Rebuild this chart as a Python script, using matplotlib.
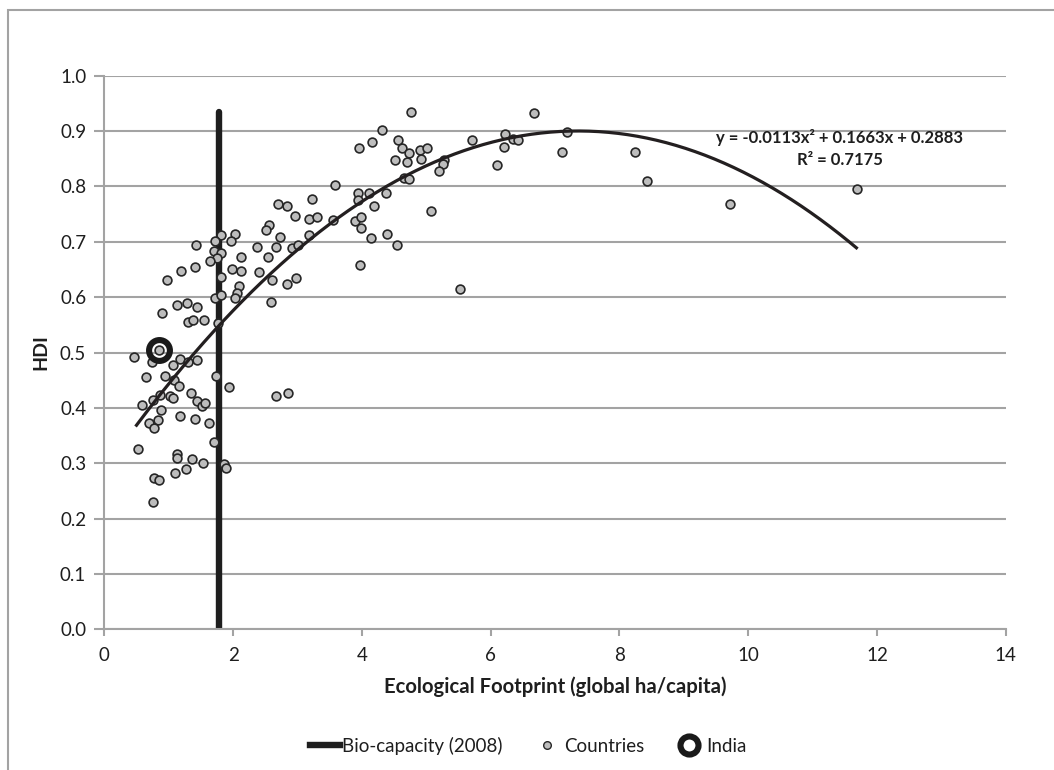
import matplotlib
matplotlib.use("Agg")
import matplotlib.pyplot as plt
from matplotlib.patches import Rectangle
from matplotlib.lines import Line2D
import numpy as np

plt.rcParams['font.family'] = ['Lato', 'DejaVu Sans']

# ---- data ----
country_ef = [2.562, 2.511, 1.807, 2.025, 1.719, 1.963, 1.424, 1.704, 1.807, 1.755,
              1.641, 2.128, 2.367, 2.661, 2.728, 2.542, 1.195, 1.413, 0.969, 1.983,
              2.128, 1.807, 2.407, 2.604, 2.097, 2.056, 2.025, 1.719, 1.812, 2.584,
              1.124, 1.289, 1.445, 0.891, 1.305, 1.382, 1.553, 1.770, 0.461, 0.736,
              1.072, 1.175, 1.305, 1.445, 0.648, 0.942, 1.730, 1.083, 1.155, 1.937,
              2.666, 0.865, 1.021, 1.072, 0.751, 0.590, 1.351, 1.434, 1.513, 1.568,
              0.885, 1.180, 1.408, 1.621, 0.834, 0.699, 0.771, 0.528, 1.708, 1.124,
              1.124, 1.357, 1.528, 1.269, 1.098, 1.858, 1.884, 0.771, 0.850, 0.751,
              4.762, 6.672, 4.307, 6.217, 6.342, 6.429, 6.211, 5.705, 6.093, 4.161,
              3.955, 4.565, 4.618, 4.736, 4.902, 5.006, 4.913, 4.514, 4.700, 5.280,
              5.264, 5.201, 4.654, 4.736, 3.587, 3.934, 3.934, 4.115, 4.374, 4.183,
              3.230, 2.702, 2.832, 2.961, 3.179, 3.298, 3.552, 3.893, 3.987, 3.987,
              4.136, 4.395, 4.540, 5.073, 3.184, 2.909, 3.013, 2.832, 2.982, 3.970,
              5.523, 2.852, 7.190, 7.108, 8.246, 8.432, 9.716, 11.683, 0.857]
country_hdi = [0.731, 0.721, 0.712, 0.714, 0.701, 0.701, 0.695, 0.683, 0.680, 0.671,
               0.665, 0.672, 0.690, 0.690, 0.708, 0.673, 0.648, 0.654, 0.631, 0.651,
               0.647, 0.637, 0.645, 0.631, 0.621, 0.607, 0.598, 0.598, 0.604, 0.591,
               0.586, 0.590, 0.582, 0.571, 0.555, 0.559, 0.559, 0.553, 0.492, 0.482,
               0.478, 0.489, 0.482, 0.486, 0.456, 0.458, 0.458, 0.451, 0.439, 0.437,
               0.421, 0.424, 0.421, 0.418, 0.415, 0.406, 0.427, 0.413, 0.404, 0.408,
               0.397, 0.386, 0.379, 0.372, 0.378, 0.372, 0.364, 0.326, 0.338, 0.317,
               0.309, 0.307, 0.300, 0.289, 0.283, 0.299, 0.292, 0.274, 0.270, 0.230,
               0.935, 0.932, 0.902, 0.895, 0.886, 0.884, 0.871, 0.884, 0.838, 0.880,
               0.869, 0.884, 0.869, 0.860, 0.866, 0.870, 0.850, 0.848, 0.845, 0.848,
               0.841, 0.827, 0.815, 0.814, 0.803, 0.788, 0.776, 0.788, 0.788, 0.765,
               0.777, 0.768, 0.764, 0.747, 0.742, 0.744, 0.740, 0.737, 0.744, 0.725,
               0.707, 0.714, 0.694, 0.755, 0.713, 0.688, 0.695, 0.623, 0.634, 0.658,
               0.614, 0.427, 0.899, 0.863, 0.863, 0.809, 0.768, 0.795, 0.505]

india_ef = [0.857]
india_hdi = [0.505]

bio_x = [1.78, 1.78]
bio_y = [0.0, 0.935]

trend_coef = [-0.0113, 0.1663, 0.2883]
trend_range = [0.5, 11.68]

x_ticks = [0, 2, 4, 6, 8, 10, 12, 14]
y_ticks = [0.0, 0.1, 0.2, 0.3, 0.4, 0.5, 0.6, 0.7, 0.8, 0.9, 1.0]

# ---- figure ----
W, H = 1054, 770
fig = plt.figure(figsize=(W / 100, H / 100), dpi=100)
grid_c = '#A3A3A3'
text_c = '#1E1E1E'

# outer chart frame (partly cut off at right/bottom)
fig.patches.append(Rectangle((7.5 / W, -0.5), 2.0, 1 - 9.5 / H + 0.5,
                             transform=fig.transFigure, fill=False,
                             edgecolor=grid_c, linewidth=1.5, zorder=0))

ax = fig.add_axes([104.3 / W, 1 - 629.3 / H, (1005.8 - 104.3) / W, (629.3 - 75.7) / H])
ax.set_xlim(0, 14)
ax.set_ylim(0, 1.0)
ax.set_xticks(x_ticks)
ax.set_yticks(y_ticks)
ax.set_yticklabels([f"{v:.1f}" for v in y_ticks])
ax.yaxis.grid(True, color=grid_c, linewidth=1.5)
ax.set_axisbelow(True)
for s in ['top', 'right']:
    ax.spines[s].set_visible(False)
for s in ['left', 'bottom']:
    ax.spines[s].set_color(grid_c)
    ax.spines[s].set_linewidth(1.5)
ax.tick_params(axis='both', colors=grid_c, width=1.5, length=5, direction='out',
               labelsize=13.5, labelcolor=text_c)
ax.tick_params(axis='y', length=7, pad=6)
ax.tick_params(axis='x', pad=8)

# bio-capacity line
ax.plot(bio_x, bio_y, color='#1E1E1E', linewidth=4.6, solid_capstyle='round',
        zorder=2, label='Bio-capacity (2008)')

# countries
ax.scatter(country_ef, country_hdi, s=40, facecolor='#BDBDBD', edgecolor='#262626',
           linewidth=1.2, zorder=3, label='Countries')

# trend line
xx = np.linspace(trend_range[0], trend_range[1], 300)
yy = np.polyval(trend_coef, xx)
ax.plot(xx, yy, color='#231F20', linewidth=2.3, zorder=4)

# India
ax.plot(india_ef, india_hdi, linestyle='none', marker='o', markersize=15,
        markerfacecolor='none', markeredgecolor='#1A1A1A', markeredgewidth=4.4,
        zorder=5, label='India')

ax.text(840 / W, 1 - 138 / H, 'y = -0.0113x² + 0.1663x + 0.2883', transform=fig.transFigure,
        ha='center', va='center', fontsize=12, fontweight='bold', color=text_c)
ax.text(840 / W, 1 - 160 / H, 'R² = 0.7175', transform=fig.transFigure,
        ha='center', va='center', fontsize=12, fontweight='bold', color=text_c)

ax.set_xlabel('Ecological Footprint (global ha/capita)', fontsize=14.6, fontweight='bold',
              color=text_c, labelpad=9)
ax.set_ylabel('HDI', fontsize=14, fontweight='bold', color=text_c, labelpad=8)

handles = [
    Line2D([], [], color='#1E1E1E', linewidth=4.6),
    Line2D([], [], linestyle='none', marker='o', markersize=5.5, markerfacecolor='#BDBDBD',
           markeredgecolor='#262626', markeredgewidth=1.0),
    Line2D([], [], linestyle='none', marker='o', markersize=13, markerfacecolor='none',
           markeredgecolor='#1A1A1A', markeredgewidth=4.4),
]
fig.legend(handles, ['Bio-capacity (2008)', 'Countries', 'India'],
           loc='center', bbox_to_anchor=(528 / W, 1 - 746 / H), ncol=3, frameon=False,
           fontsize=13.5, handlelength=1.6, handletextpad=0.1, columnspacing=1.6,
           labelcolor=text_c)

fig.savefig('out.png', dpi=100)
